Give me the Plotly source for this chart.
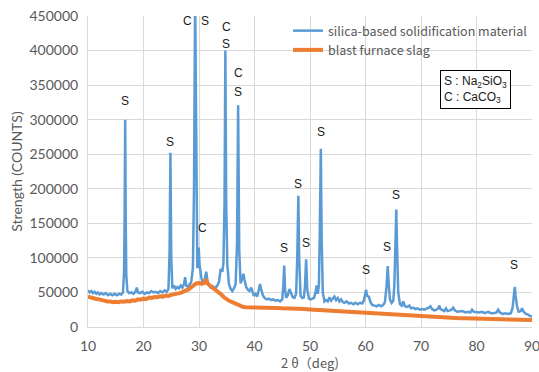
import plotly.graph_objects as go

# ---- data ----
tt_blue = [10.0, 10.3, 10.6, 10.9, 11.2, 11.5, 11.8, 12.1, 12.4, 12.8, 13.2, 13.6, 14.0, 14.4, 14.8, 15.2,
           15.6, 16.0, 16.3, 16.5, 16.6, 16.7, 16.8, 16.9, 17.1, 17.4, 17.8, 18.2, 18.6, 18.8, 19.0, 19.4,
           19.8, 20.2, 20.6, 21.0, 21.4, 21.8, 22.2, 22.6, 23.0, 23.4, 23.8, 24.2, 24.5, 24.7, 24.85, 25.0,
           25.2, 25.5, 25.8, 26.1, 26.4, 26.7, 27.0, 27.3, 27.5, 27.7, 28.0, 28.3, 28.6, 28.9, 29.1, 29.3,
           29.5, 29.7, 29.85, 29.95, 30.1, 30.4, 30.7, 31.0, 31.3, 31.5, 31.8, 32.1, 32.5, 32.9, 33.3, 33.6,
           33.9, 34.2, 34.4, 34.6, 34.75, 34.9, 35.1, 35.4, 35.7, 36.0, 36.3, 36.6, 36.85, 37.05, 37.25, 37.5,
           37.8, 38.0, 38.2, 38.5, 38.8, 39.1, 39.4, 39.6, 39.9, 40.2, 40.5, 40.8, 41.0, 41.2, 41.5, 41.8,
           42.2, 42.6, 43.0, 43.4, 43.8, 44.2, 44.6, 45.0, 45.2, 45.35, 45.5, 45.7, 46.0, 46.3, 46.6, 46.9,
           47.2, 47.5, 47.7, 47.9, 48.05, 48.3, 48.6, 48.9, 49.1, 49.3, 49.5, 49.8, 50.1, 50.4, 50.7, 51.0,
           51.2, 51.4, 51.6, 51.75, 51.95, 52.1, 52.3, 52.6, 52.9, 53.2, 53.5, 53.8, 54.1, 54.4, 54.7, 55.0,
           55.3, 55.6, 55.9, 56.2, 56.6, 57.0, 57.4, 57.8, 58.2, 58.6, 59.0, 59.4, 59.7, 59.9, 60.1, 60.3,
           60.6, 60.9, 61.2, 61.6, 62.0, 62.4, 62.8, 63.2, 63.5, 63.8, 64.0, 64.2, 64.4, 64.7, 65.0, 65.2,
           65.4, 65.55, 65.7, 65.9, 66.2, 66.5, 66.8, 67.1, 67.5, 67.9, 68.2, 68.6, 69.0, 69.4, 69.8, 70.2,
           70.6, 71.0, 71.4, 71.7, 72.0, 72.4, 72.8, 73.1, 73.3, 73.5, 73.9, 74.2, 74.5, 74.8, 75.2, 75.5,
           75.8, 76.1, 76.5, 77.0, 77.5, 78.0, 78.5, 78.9, 79.2, 79.5, 80.0, 80.5, 81.0, 81.5, 82.1, 82.6,
           83.1, 83.6, 83.9, 84.2, 84.7, 85.2, 85.7, 86.2, 86.5, 86.75, 86.9, 87.05, 87.3, 87.6, 88.0, 88.2,
           88.5, 88.9, 89.3, 89.6, 90.0]
cnt_blue = [53000, 50000, 52000, 49000, 51000, 48000, 50000, 47000, 49000, 47000, 49000, 46000, 48000, 46000, 48000, 46000,
            48000, 47000, 50000, 80000, 160000, 300000, 150000, 75000, 52000, 49000, 50000, 48000, 52000, 57000, 50000, 49000,
            51000, 48000, 50000, 49000, 52000, 50000, 51000, 49000, 52000, 50000, 53000, 51000, 55000, 110000, 252000, 100000,
            56000, 60000, 55000, 58000, 56000, 60000, 57000, 62000, 72000, 60000, 58000, 62000, 65000, 85000, 200000, 480000,
            200000, 85000, 100000, 115000, 90000, 72000, 63000, 68000, 80000, 68000, 60000, 57000, 59000, 56000, 60000, 65000,
            84000, 80000, 92000, 180000, 400000, 180000, 90000, 62000, 55000, 52000, 56000, 62000, 120000, 321000, 110000, 63000,
            70000, 77000, 68000, 58000, 54000, 52000, 57000, 52000, 45000, 48000, 44000, 55000, 62000, 55000, 46000, 42000,
            40000, 41000, 39000, 40000, 38000, 39000, 37000, 40000, 60000, 89000, 55000, 42000, 46000, 55000, 48000, 43000,
            42000, 48000, 100000, 190000, 100000, 45000, 42000, 43000, 60000, 98000, 55000, 41000, 40000, 41000, 42000, 50000,
            60000, 48000, 60000, 130000, 258000, 130000, 50000, 37000, 39000, 37000, 43000, 38000, 41000, 44000, 39000, 42000,
            37000, 40000, 36000, 35000, 37000, 34000, 35000, 33000, 35000, 33000, 35000, 34000, 38000, 46000, 54000, 45000,
            44000, 36000, 32000, 31000, 30000, 32000, 30000, 32000, 36000, 60000, 88000, 60000, 40000, 35000, 38000, 60000,
            120000, 170000, 110000, 50000, 33000, 31000, 37000, 30000, 29000, 31000, 27000, 28000, 26000, 27000, 25000, 26000,
            25000, 26000, 28000, 30000, 26000, 24000, 25000, 27000, 31000, 26000, 24000, 23000, 27000, 23000, 24000, 25000,
            28000, 24000, 22000, 22000, 23000, 21000, 22000, 21000, 25000, 22000, 21000, 21000, 22000, 20000, 22000, 20000,
            20000, 21000, 25000, 21000, 19000, 20000, 19000, 20000, 28000, 45000, 58000, 45000, 30000, 22000, 23000, 27000,
            22000, 19000, 18000, 16000, 15000]

tt_orange = [10.0, 10.5, 11.0, 11.5, 12.0, 12.5, 13.0, 13.5, 14.0, 14.5, 15.0, 15.5, 16.0, 16.5, 17.0, 17.5,
             18.0, 18.5, 19.0, 19.5, 20.0, 20.5, 21.0, 21.5, 22.0, 22.5, 23.0, 23.5, 24.0, 24.5, 25.0, 25.5,
             26.0, 26.5, 27.0, 27.5, 28.0, 28.5, 29.0, 29.5, 30.0, 30.5, 31.0, 31.3, 31.5, 32.0, 32.5, 33.0,
             33.5, 34.0, 34.5, 35.0, 35.5, 36.0, 36.5, 37.0, 37.5, 38.0, 38.5, 39.0, 40.0, 41.0, 42.0, 43.0,
             44.0, 45.0, 46.0, 47.0, 48.0, 49.0, 50.0, 51.0, 52.0, 53.0, 54.0, 55.0, 56.0, 57.0, 58.0, 59.0,
             60.0, 61.0, 62.0, 63.0, 64.0, 65.0, 66.0, 67.0, 68.0, 69.0, 70.0, 71.0, 72.0, 73.0, 74.0, 75.0,
             76.0, 77.0, 78.0, 80.0, 82.0, 84.0, 86.0, 88.0, 90.0]
cnt_orange = [44000, 42500, 42000, 40500, 40000, 38500, 38000, 37000, 37000, 36000, 36500, 36000, 37000, 36500, 37500, 37000,
              38500, 38000, 40000, 39500, 41000, 40500, 42500, 42000, 43500, 43000, 44500, 44000, 45500, 45000, 46500, 47000,
              48500, 49000, 50500, 52000, 54000, 57000, 61000, 63000, 63500, 62500, 64000, 69000, 63000, 60000, 56000, 53000,
              50000, 47000, 43000, 39500, 37500, 36000, 34000, 32000, 30000, 29000, 28500, 28500, 28000, 28500, 28000, 27500,
              27500, 27000, 27000, 26500, 26500, 26000, 25500, 25000, 24500, 24000, 23500, 23000, 22000, 21500, 21000, 20000,
              20000, 19000, 18500, 18000, 17500, 17000, 16500, 16000, 15500, 15000, 14500, 14000, 14000, 13500, 13500, 13000,
              13000, 12500, 12500, 12000, 11500, 11500, 11000, 10500, 10000]

series_names = ["silica-based solidification material", "blast furnace slag"]

peak_text = ["S", "S", "C", "S", "C", "S", "C", "S", "C", "S", "S", "S", "S", "S", "S", "S", "S"]
peak_x = [16.7, 24.8, 27.9, 31.0, 34.9, 34.9, 37.1, 37.1, 30.7, 45.4, 47.9, 49.3, 52.0, 60.1, 63.8, 65.55, 86.8]
peak_y = [327000, 268000, 443000, 443000, 434000, 410000, 368000, 340000, 143000, 115000, 207000, 121000,
          282000, 82000, 116000, 191000, 89000]

key_text = "S : Na<sub>2</sub>SiO<sub>3</sub><br>C : CaCO<sub>3</sub>"

# ---- figure ----
fig = go.Figure()
fig.add_trace(go.Scatter(x=tt_blue, y=cnt_blue, mode="lines", name=series_names[0],
                         line=dict(color="#5B9BD5", width=2.5)))
fig.add_trace(go.Scatter(x=tt_orange, y=cnt_orange, mode="lines", name=series_names[1],
                         line=dict(color="#ED7D31", width=4)))

for t, x, y in zip(peak_text, peak_x, peak_y):
    fig.add_annotation(x=x, y=y, text=t, showarrow=False,
                       font=dict(family="Liberation Sans", size=12, color="#1a1a1a"))

fig.add_annotation(xref="paper", yref="paper", x=0.872, y=0.764, xanchor="center", yanchor="middle",
                   text=key_text, showarrow=False,
                   align="left", bordercolor="#000000", borderwidth=1, borderpad=3, bgcolor="white",
                   font=dict(family="Liberation Sans", size=12, color="#1a1a1a"))

axis_common = dict(showgrid=True, gridcolor="#d9d9d9", gridwidth=1, showline=True, linecolor="#d9d9d9",
                   linewidth=1, zeroline=False, ticks="", automargin=False,
                   tickfont=dict(family="Lato", size=14, color="#595959"))

fig.update_xaxes(range=[10, 90], dtick=10, tick0=10, ticklabeloverflow="allow", ticklabelstandoff=6,
                 title=dict(text="2 θ（deg)", font=dict(family="Noto Sans CJK JP", size=13, color="#595959"),
                            standoff=6),
                 **axis_common)
fig.update_yaxes(range=[0, 450000], dtick=50000, tickformat="d",
                 title=dict(text="Strength (COUNTS)", font=dict(family="Lato", size=14, color="#595959"),
                            standoff=3),
                 ticklabelstandoff=6, **axis_common)

fig.update_layout(
    width=539, height=372,
    margin=dict(l=88, r=7, t=16, b=45),
    plot_bgcolor="white", paper_bgcolor="white",
    showlegend=True,
    legend=dict(x=1.0, y=1.0, xanchor="right", yanchor="top", bgcolor="rgba(0,0,0,0)",
                font=dict(family="Noto Sans CJK JP", size=12.5, color="#595959"),
                itemwidth=30, tracegroupgap=0),
)

fig.write_html("out.html", config={"displayModeBar": False},
               post_script="document.body.style.margin='0px';document.body.style.overflow='hidden';")
